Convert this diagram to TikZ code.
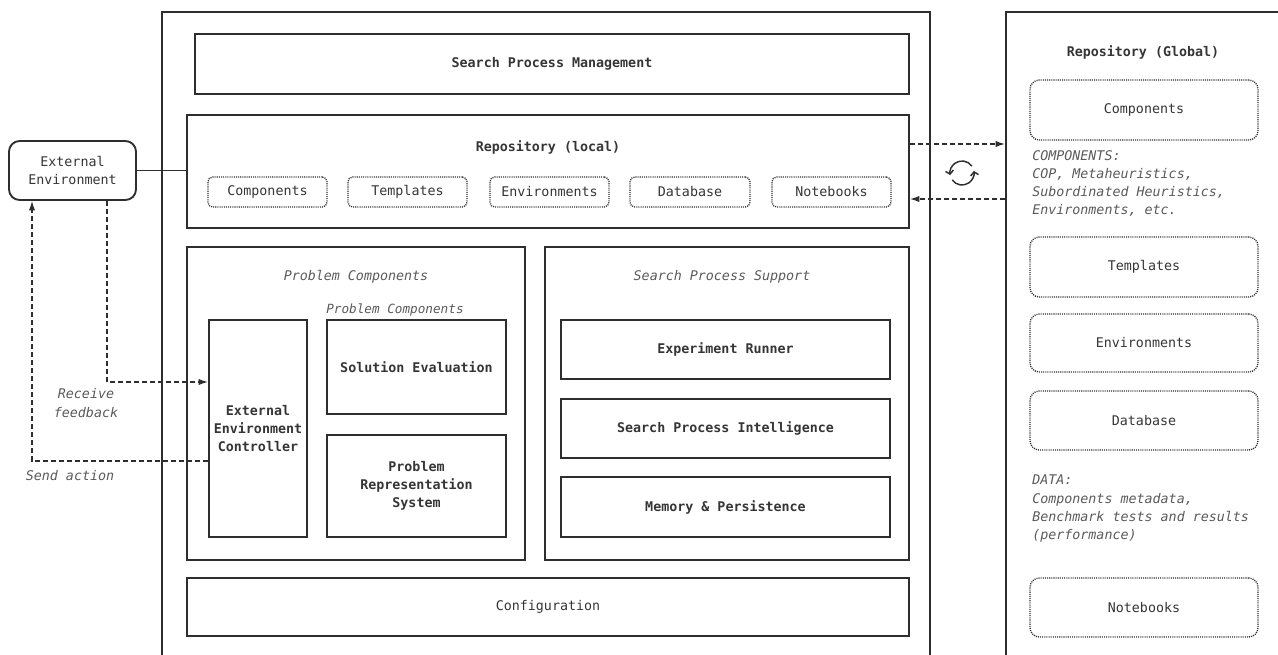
\documentclass[tikz,border=0pt]{standalone}
\usepackage{fontspec}
\setmonofont{DejaVu Sans Mono}
\usetikzlibrary{arrows.meta,calc}
\definecolor{ink}{HTML}{2E2E2E}
\definecolor{txt}{HTML}{353535}
\definecolor{soft}{HTML}{5A5A5A}

\begin{document}
\begin{tikzpicture}[x=0.75pt,y=-0.75pt,
  font=\ttfamily\fontsize{10}{13.6}\selectfont,
  % box given by its corners (x1,y1,x2,y2) in pixel units
  area/.style n args={4}{minimum width={(#3-#1)*0.75pt}, minimum height={(#4-#2)*0.75pt},
    at={({(#1+#3)/2},{(#2+#4)/2})}},
  frame/.style={draw=ink, line width=1.4pt, inner sep=0pt, text=txt, align=center, rectangle},
  strong/.style={frame, font=\ttfamily\bfseries\fontsize{10}{13.6}\selectfont},
  slot/.style={draw=ink, line width=1pt, dash pattern=on 0.8pt off 0.8pt, rounded corners=3.5pt,
    inner sep=0pt, text=txt, rectangle},
  gslot/.style={slot, rounded corners=7pt},
  caption/.style={text=soft, font=\ttfamily\itshape\fontsize{10}{13.6}\selectfont},
  note/.style={text=soft, font=\ttfamily\itshape\fontsize{10}{13.6}\selectfont, align=left, anchor=north west, inner sep=0pt},
  title/.style={text=txt, font=\ttfamily\bfseries\fontsize{10}{13.6}\selectfont},
  link/.style={draw=ink, line width=0.9pt, dash pattern=on 3.5pt off 2.5pt},
  tip/.style={-{Latex[length=7pt,width=4.6pt]}},
  turn/.style={draw=ink, line width=1.1pt, -{Straight Barb[length=2.6pt,width=6pt]}},
]
\useasboundingbox (0,0) rectangle (1278,654);

% outer frames, open towards the page edges
\node[frame, area={162}{12}{930}{720}] (core) {};
\node[frame, area={1006}{12}{1320}{720}] (glob) {};

% core platform
\node[strong, area={195}{34}{909}{94}] (spm) {Search Process Management};

\node[frame, area={187}{115}{909}{228}] (repl) {};
\node[title] (replt) at (548,147) {Repository (local)};
\node[slot, area={208}{177}{327}{207}] (lc) {Components};
\node[slot, area={348}{177}{467}{207}] (lt) {Templates};
\node[slot, area={490}{177}{609}{207}] (le) {Environments};
\node[slot, area={630}{177}{750}{207}] (ld) {Database};
\node[slot, area={772}{177}{891}{207}] (ln) {Notebooks};

\node[frame, area={187}{247}{525}{560}] (pc) {};
\node[caption] (pct) at (356,277) {Problem Components};
\node[caption, font=\ttfamily\itshape\fontsize{9.5}{12}\selectfont] (pcs) at (395,310) {Problem Components};
\node[strong, area={209}{320}{307}{537}] (eec) {External\\Environment\\Controller};
\node[strong, area={327}{320}{506}{414}] (se) {Solution Evaluation};
\node[strong, area={327}{435}{506}{537}] (prs) {Problem\\Representation\\System};

\node[frame, area={545}{247}{909}{560}] (sps) {};
\node[caption] (spst) at (722,277) {Search Process Support};
\node[strong, area={561}{320}{890}{379}] (er) {Experiment Runner};
\node[strong, area={561}{399}{890}{458}] (spi) {Search Process Intelligence};
\node[strong, area={561}{477}{890}{537}] (mp) {Memory \& Persistence};

\node[frame, area={187}{578}{909}{636}] (conf) {Configuration};

% global repository
\node[title] (globt) at (1143,52) {Repository (Global)};
\node[gslot, area={1030}{80}{1258}{140}] (gc) {Components};
\node[note] (gcn) at (1032,150) {COMPONENTS:\\COP, Metaheuristics,\\Subordinated Heuristics,\\Environments, etc.};
\node[gslot, area={1030}{237}{1258}{297}] (gt) {Templates};
\node[gslot, area={1030}{314}{1258}{372}] (ge) {Environments};
\node[gslot, area={1030}{391}{1258}{450}] (gd) {Database};
\node[note] (gdn) at (1032,475) {DATA:\\Components metadata,\\Benchmark tests and results\\(performance)};
\node[gslot, area={1030}{578}{1258}{637}] (gn) {Notebooks};

% external environment
\node[draw=ink, line width=1.4pt, rounded corners=8pt, inner sep=0pt, text=txt, align=center,
  area={9}{141}{136}{200}] (ext) {External\\Environment};
\draw[ink, line width=0.9pt] (ext.east) -- (ext.east -| repl.west);

\coordinate (fb) at (107,382);
\coordinate (sa) at (32,461);
\draw[link, tip] (ext.south -| fb) |- (eec.west |- fb);
\draw[link, tip] (eec.west |- sa) -| (ext.south -| sa);
\node[caption, align=center] (fbl) at (86,403) {Receive\\feedback};
\node[caption] (sal) at (70,476) {Send action};

% synchronisation between local and global repositories
\coordinate (up) at (0,144);
\coordinate (down) at (0,199);
\draw[link, tip] (repl.east |- up) -- (glob.west |- up);
\draw[link, tip] (glob.west |- down) -- (repl.east |- down);
\coordinate (sync) at (962,173);
\draw[turn] ($(sync)+(35:9pt)$) arc[start angle=35, end angle=190, radius=9pt];
\draw[turn] ($(sync)+(215:9pt)$) arc[start angle=215, end angle=370, radius=9pt];
\end{tikzpicture}
\end{document}
